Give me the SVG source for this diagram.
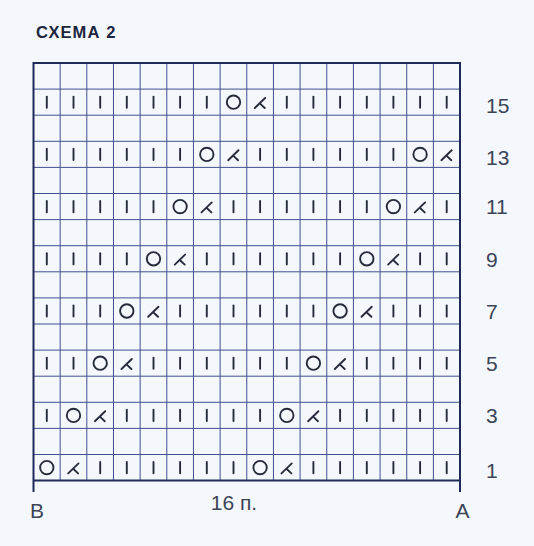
<svg xmlns="http://www.w3.org/2000/svg" xmlns:xlink="http://www.w3.org/1999/xlink" width="534" height="546" viewBox="0 0 534 546">
<style>
.title{font-family:"Liberation Sans",Arial,sans-serif;font-weight:bold;font-size:16.5px;fill:#1d2540;letter-spacing:1.1px}
.lbl{font-family:"Liberation Sans",Arial,sans-serif;font-size:21px;fill:#3c4458}
.thin{stroke:#41518f;stroke-width:1;fill:none}
.frame{stroke:#1e2a5a;stroke-width:2;fill:none}
.sym{stroke:#262c3c;stroke-width:1.9;fill:none;stroke-linecap:round}
</style>
<defs>
<line id="I" class="sym" x1="0" y1="-5.6" x2="0" y2="5.6"/>
<circle id="O" class="sym" cx="0" cy="0" r="6.7"/>
<path id="L" class="sym" d="M5,-4.2 L-5.3,5.8 M-0.3,1.2 L4.6,5.8"/>
</defs>
<rect x="0" y="0" width="534" height="546" fill="#f4f7fb"/>
<text class="title" x="36" y="38">СХЕМА 2</text>
<g id="grid">
<path class="thin" d="M33.5,89.1H460M33.5,115.2H460M33.5,141.3H460M33.5,167.4H460M33.5,193.5H460M33.5,219.6H460M33.5,245.7H460M33.5,271.8H460M33.5,297.9H460M33.5,324H460M33.5,350.1H460M33.5,376.2H460M33.5,402.3H460M33.5,428.4H460M33.5,454.5H460
M60.16,63V480.6M86.82,63V480.6M113.48,63V480.6M140.14,63V480.6M166.8,63V480.6M193.46,63V480.6M220.12,63V480.6M246.78,63V480.6M273.44,63V480.6M300.1,63V480.6M326.76,63V480.6M353.42,63V480.6M380.08,63V480.6M406.74,63V480.6M433.4,63V480.6"/>
<path class="frame" d="M33.5,63H460V480.6H33.5Z M33.5,480.6V492 M460,480.6V492"/>
</g>
<g id="row15">
<use xlink:href="#I" x="46.8" y="102.2"/><use xlink:href="#I" x="73.5" y="102.2"/><use xlink:href="#I" x="100.2" y="102.2"/><use xlink:href="#I" x="126.8" y="102.2"/><use xlink:href="#I" x="153.5" y="102.2"/><use xlink:href="#I" x="180.1" y="102.2"/><use xlink:href="#I" x="206.8" y="102.2"/><use xlink:href="#O" x="233.5" y="102.2"/><use xlink:href="#L" x="260.1" y="102.2"/><use xlink:href="#I" x="286.8" y="102.2"/><use xlink:href="#I" x="313.4" y="102.2"/><use xlink:href="#I" x="340.1" y="102.2"/><use xlink:href="#I" x="366.8" y="102.2"/><use xlink:href="#I" x="393.4" y="102.2"/><use xlink:href="#I" x="420.1" y="102.2"/><use xlink:href="#I" x="446.7" y="102.2"/>
</g>
<g id="row13">
<use xlink:href="#I" x="46.8" y="154.4"/><use xlink:href="#I" x="73.5" y="154.4"/><use xlink:href="#I" x="100.2" y="154.4"/><use xlink:href="#I" x="126.8" y="154.4"/><use xlink:href="#I" x="153.5" y="154.4"/><use xlink:href="#I" x="180.1" y="154.4"/><use xlink:href="#O" x="206.8" y="154.4"/><use xlink:href="#L" x="233.5" y="154.4"/><use xlink:href="#I" x="260.1" y="154.4"/><use xlink:href="#I" x="286.8" y="154.4"/><use xlink:href="#I" x="313.4" y="154.4"/><use xlink:href="#I" x="340.1" y="154.4"/><use xlink:href="#I" x="366.8" y="154.4"/><use xlink:href="#I" x="393.4" y="154.4"/><use xlink:href="#O" x="420.1" y="154.4"/><use xlink:href="#L" x="446.7" y="154.4"/>
</g>
<g id="row11">
<use xlink:href="#I" x="46.8" y="206.6"/><use xlink:href="#I" x="73.5" y="206.6"/><use xlink:href="#I" x="100.2" y="206.6"/><use xlink:href="#I" x="126.8" y="206.6"/><use xlink:href="#I" x="153.5" y="206.6"/><use xlink:href="#O" x="180.1" y="206.6"/><use xlink:href="#L" x="206.8" y="206.6"/><use xlink:href="#I" x="233.5" y="206.6"/><use xlink:href="#I" x="260.1" y="206.6"/><use xlink:href="#I" x="286.8" y="206.6"/><use xlink:href="#I" x="313.4" y="206.6"/><use xlink:href="#I" x="340.1" y="206.6"/><use xlink:href="#I" x="366.8" y="206.6"/><use xlink:href="#O" x="393.4" y="206.6"/><use xlink:href="#L" x="420.1" y="206.6"/><use xlink:href="#I" x="446.7" y="206.6"/>
</g>
<g id="row9">
<use xlink:href="#I" x="46.8" y="258.8"/><use xlink:href="#I" x="73.5" y="258.8"/><use xlink:href="#I" x="100.2" y="258.8"/><use xlink:href="#I" x="126.8" y="258.8"/><use xlink:href="#O" x="153.5" y="258.8"/><use xlink:href="#L" x="180.1" y="258.8"/><use xlink:href="#I" x="206.8" y="258.8"/><use xlink:href="#I" x="233.5" y="258.8"/><use xlink:href="#I" x="260.1" y="258.8"/><use xlink:href="#I" x="286.8" y="258.8"/><use xlink:href="#I" x="313.4" y="258.8"/><use xlink:href="#I" x="340.1" y="258.8"/><use xlink:href="#O" x="366.8" y="258.8"/><use xlink:href="#L" x="393.4" y="258.8"/><use xlink:href="#I" x="420.1" y="258.8"/><use xlink:href="#I" x="446.7" y="258.8"/>
</g>
<g id="row7">
<use xlink:href="#I" x="46.8" y="311"/><use xlink:href="#I" x="73.5" y="311"/><use xlink:href="#I" x="100.2" y="311"/><use xlink:href="#O" x="126.8" y="311"/><use xlink:href="#L" x="153.5" y="311"/><use xlink:href="#I" x="180.1" y="311"/><use xlink:href="#I" x="206.8" y="311"/><use xlink:href="#I" x="233.5" y="311"/><use xlink:href="#I" x="260.1" y="311"/><use xlink:href="#I" x="286.8" y="311"/><use xlink:href="#I" x="313.4" y="311"/><use xlink:href="#O" x="340.1" y="311"/><use xlink:href="#L" x="366.8" y="311"/><use xlink:href="#I" x="393.4" y="311"/><use xlink:href="#I" x="420.1" y="311"/><use xlink:href="#I" x="446.7" y="311"/>
</g>
<g id="row5">
<use xlink:href="#I" x="46.8" y="363.2"/><use xlink:href="#I" x="73.5" y="363.2"/><use xlink:href="#O" x="100.2" y="363.2"/><use xlink:href="#L" x="126.8" y="363.2"/><use xlink:href="#I" x="153.5" y="363.2"/><use xlink:href="#I" x="180.1" y="363.2"/><use xlink:href="#I" x="206.8" y="363.2"/><use xlink:href="#I" x="233.5" y="363.2"/><use xlink:href="#I" x="260.1" y="363.2"/><use xlink:href="#I" x="286.8" y="363.2"/><use xlink:href="#O" x="313.4" y="363.2"/><use xlink:href="#L" x="340.1" y="363.2"/><use xlink:href="#I" x="366.8" y="363.2"/><use xlink:href="#I" x="393.4" y="363.2"/><use xlink:href="#I" x="420.1" y="363.2"/><use xlink:href="#I" x="446.7" y="363.2"/>
</g>
<g id="row3">
<use xlink:href="#I" x="46.8" y="415.4"/><use xlink:href="#O" x="73.5" y="415.4"/><use xlink:href="#L" x="100.2" y="415.4"/><use xlink:href="#I" x="126.8" y="415.4"/><use xlink:href="#I" x="153.5" y="415.4"/><use xlink:href="#I" x="180.1" y="415.4"/><use xlink:href="#I" x="206.8" y="415.4"/><use xlink:href="#I" x="233.5" y="415.4"/><use xlink:href="#I" x="260.1" y="415.4"/><use xlink:href="#O" x="286.8" y="415.4"/><use xlink:href="#L" x="313.4" y="415.4"/><use xlink:href="#I" x="340.1" y="415.4"/><use xlink:href="#I" x="366.8" y="415.4"/><use xlink:href="#I" x="393.4" y="415.4"/><use xlink:href="#I" x="420.1" y="415.4"/><use xlink:href="#I" x="446.7" y="415.4"/>
</g>
<g id="row1">
<use xlink:href="#O" x="46.8" y="467.6"/><use xlink:href="#L" x="73.5" y="467.6"/><use xlink:href="#I" x="100.2" y="467.6"/><use xlink:href="#I" x="126.8" y="467.6"/><use xlink:href="#I" x="153.5" y="467.6"/><use xlink:href="#I" x="180.1" y="467.6"/><use xlink:href="#I" x="206.8" y="467.6"/><use xlink:href="#I" x="233.5" y="467.6"/><use xlink:href="#O" x="260.1" y="467.6"/><use xlink:href="#L" x="286.8" y="467.6"/><use xlink:href="#I" x="313.4" y="467.6"/><use xlink:href="#I" x="340.1" y="467.6"/><use xlink:href="#I" x="366.8" y="467.6"/><use xlink:href="#I" x="393.4" y="467.6"/><use xlink:href="#I" x="420.1" y="467.6"/><use xlink:href="#I" x="446.7" y="467.6"/>
</g>
<g id="row-numbers" class="lbl">
<text x="486" y="113">15</text>
<text x="486" y="165">13</text>
<text x="486" y="214">11</text>
<text x="486" y="267">9</text>
<text x="486" y="319">7</text>
<text x="486" y="371">5</text>
<text x="486" y="423">3</text>
<text x="486" y="478">1</text>
</g>
<g id="axis-labels" class="lbl">
<text x="30" y="518">B</text>
<text x="462.5" y="518" text-anchor="middle">A</text>
<text x="234" y="510" text-anchor="middle">16 п.</text>
</g>
</svg>
